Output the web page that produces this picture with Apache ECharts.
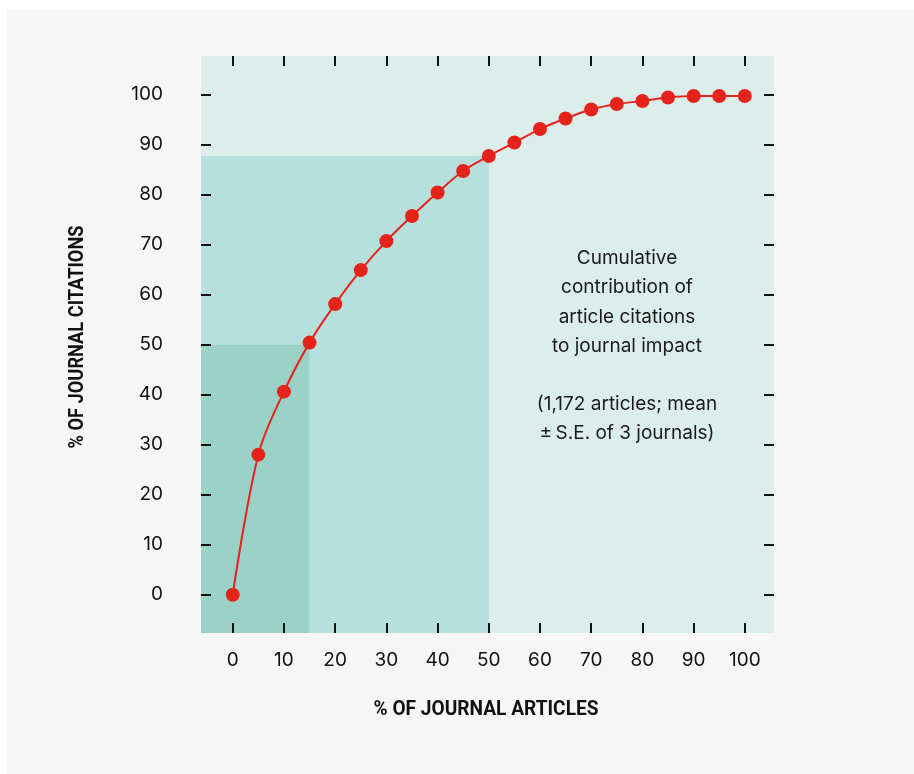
<!DOCTYPE html>
<html>
<head>
<meta charset="utf-8">
<script src="https://cdn.jsdelivr.net/npm/echarts@6/dist/echarts.min.js"></script>
<style>
html,body{margin:0;padding:0;background:#ffffff;}
#chart{width:914px;height:774px;}
</style>
</head>
<body>
<div id="chart"></div>
<script>
// ---- data ----
const articlePct = [0,5,10,15,20,25,30,35,40,45,50,55,60,65,70,75,80,85,90,95,100];
const citationPct = [0,28.0,40.6,50.4,58.1,64.9,70.7,75.7,80.4,84.7,87.7,90.4,93.1,95.2,97.0,98.1,98.7,99.4,99.7,99.7,99.7];
const xTicks = [0,10,20,30,40,50,60,70,80,90,100];
const yTicks = [0,10,20,30,40,50,60,70,80,90,100];
// shaded regions: [x extent, y extent]
const shadeOuter = [50, 87.7];
const shadeInner = [15, 50];
const xTitle = '% OF JOURNAL ARTICLES';
const yTitle = '% OF JOURNAL CITATIONS';
const noteLines = ['Cumulative','contribution of','article citations','to journal impact','','(1,172 articles; mean','\u00b1\u2009S.E. of 3 journals)'];

// ---- chart ----
const X_MIN = -6.2, X_MAX = 105.7, Y_MIN = -7.65, Y_MAX = 107.7;
const FONT = 'Inter, Roboto, sans-serif';
const TITLE_FONT = 'bold 21px Roboto, sans-serif';

function measure(text, font){
  const c = document.createElement('canvas').getContext('2d');
  c.font = font; return c.measureText(text).width;
}
const xTitleScale = 225 / measure(xTitle, TITLE_FONT);
const yTitleScale = 223 / measure(yTitle, TITLE_FONT);

const chart = echarts.init(document.getElementById('chart'), null, {renderer:'canvas'});
const tickStyle = {show:true, inside:true, length:10, lineStyle:{color:'#111', width:2}};
const hiddenLine = {show:false, onZero:false};

const option = {
  backgroundColor: '#ffffff',
  animation: false,
  grid: {left:201, top:56, width:573, height:577, show:true, backgroundColor:'#dbeeeb', borderWidth:0},
  graphic: [
    {type:'rect', shape:{x:7, y:10, width:907, height:764}, style:{fill:'#f6f6f6'}, z:-10, silent:true},
    {type:'text', x:486, y:710, scaleX:xTitleScale, style:{text:xTitle, font:TITLE_FONT, fill:'#111', align:'center', verticalAlign:'middle'}},
    {type:'text', x:77.5, y:337, rotation:Math.PI/2, scaleX:yTitleScale, style:{text:yTitle, font:TITLE_FONT, fill:'#111', align:'center', verticalAlign:'middle'}},
    {type:'text', x:627, y:346, style:{text:noteLines.join('\n'), font:'19px ' + FONT, lineHeight:29.2, fill:'#1a1a1a', align:'center', verticalAlign:'middle'}, z:10}
  ],
  xAxis: [
    {type:'value', min:X_MIN, max:X_MAX, position:'bottom', z:10,
     axisLine:hiddenLine, splitLine:{show:false},
     axisTick:Object.assign({customValues:xTicks}, tickStyle),
     axisLabel:{customValues:xTicks, margin:18, fontSize:19, color:'#111', fontFamily:FONT}},
    {type:'value', min:X_MIN, max:X_MAX, position:'top', z:10,
     axisLine:hiddenLine, splitLine:{show:false},
     axisTick:Object.assign({customValues:xTicks}, tickStyle),
     axisLabel:{show:false}}
  ],
  yAxis: [
    {type:'value', min:Y_MIN, max:Y_MAX, position:'left', z:10,
     axisLine:hiddenLine, splitLine:{show:false},
     axisTick:Object.assign({customValues:yTicks}, tickStyle),
     axisLabel:{customValues:yTicks, margin:38, fontSize:19, color:'#111', fontFamily:FONT}},
    {type:'value', min:Y_MIN, max:Y_MAX, position:'right', z:10,
     axisLine:hiddenLine, splitLine:{show:false},
     axisTick:Object.assign({customValues:yTicks}, tickStyle),
     axisLabel:{show:false}}
  ],
  series: [
    {type:'line', data:[], silent:true, z:1,
     markArea:{silent:true, label:{show:false},
       data:[
         [{coord:[X_MIN, Y_MIN], itemStyle:{color:'#b7dfdb'}}, {coord:[shadeOuter[0], shadeOuter[1]]}],
         [{coord:[X_MIN, Y_MIN], itemStyle:{color:'#9bd2c8'}}, {coord:[shadeInner[0], shadeInner[1]]}]
       ]}},
    {type:'line', z:5,
     data: articlePct.map((x,i)=>[x, citationPct[i]]),
     smooth:0.35, symbol:'circle', symbolSize:14, showAllSymbol:true,
     lineStyle:{color:'#e5231b', width:2},
     itemStyle:{color:'#e5231b'}}
  ]
};
chart.setOption(option);
</script>
</body>
</html>
